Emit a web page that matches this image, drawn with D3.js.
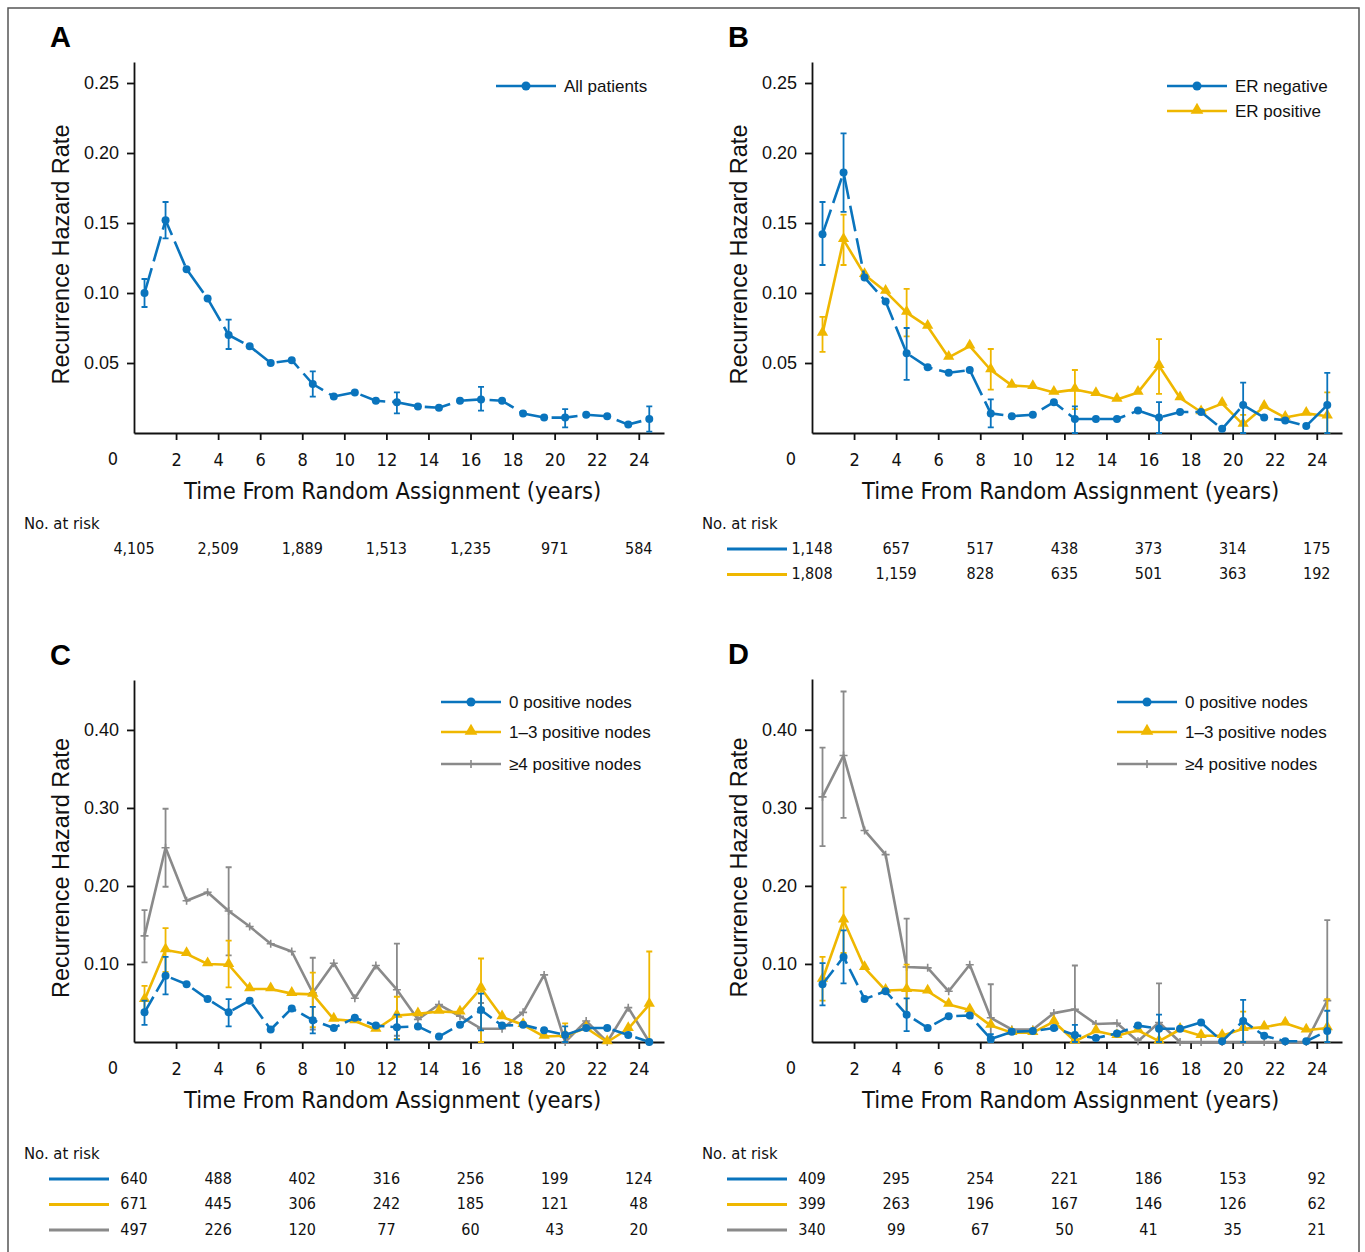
<!DOCTYPE html>
<html>
<head>
<meta charset="utf-8">
<script src="https://d3js.org/d3.v7.min.js"></script>
<style>
  body { margin: 0; background: #fff; }
  .narrow { font-family: "Liberation Sans Narrow", "DejaVu Sans Condensed", "Arial Narrow", sans-serif; }
  .sans { font-family: "Liberation Sans", Arial, Helvetica, sans-serif; }
</style>
</head>
<body>
<script>
// ---- data ----
var times = [0.5, 1.5, 2.5, 3.5, 4.5, 5.5, 6.5, 7.5, 8.5, 9.5, 10.5, 11.5, 12.5,
             13.5, 14.5, 15.5, 16.5, 17.5, 18.5, 19.5, 20.5, 21.5, 22.5, 23.5, 24.5];
var errTimes = [0.5, 1.5, 4.5, 8.5, 12.5, 16.5, 20.5, 24.5];
var xTicks = [2, 4, 6, 8, 10, 12, 14, 16, 18, 20, 22, 24];
var yTicksAB = [0.05, 0.10, 0.15, 0.20, 0.25];
var yTicksCD = [0.10, 0.20, 0.30, 0.40];
var riskTimes = [0, 4, 8, 12, 16, 20, 24];

// A: all patients
var allPts = [0.100, 0.152, 0.117, 0.096, 0.070, 0.062, 0.050, 0.052, 0.035, 0.026, 0.029, 0.023, 0.022,
              0.019, 0.018, 0.023, 0.024, 0.023, 0.014, 0.011, 0.011, 0.013, 0.012, 0.006, 0.010];
var allPtsLo = [0.090, 0.139, 0.060, 0.026, 0.014, 0.016, 0.004, 0.001];
var allPtsHi = [0.110, 0.165, 0.081, 0.044, 0.029, 0.033, 0.017, 0.019];
var riskAll = ["4,105", "2,509", "1,889", "1,513", "1,235", "971", "584"];

// B: ER status
var erNeg = [0.142, 0.186, 0.111, 0.094, 0.057, 0.047, 0.043, 0.045, 0.014, 0.012, 0.013, 0.022, 0.010,
             0.010, 0.010, 0.016, 0.011, 0.015, 0.015, 0.003, 0.020, 0.011, 0.009, 0.005, 0.020];
var erNegLo = [0.120, 0.158, 0.038, 0.004, 0.000, 0.000, 0.000, 0.000];
var erNegHi = [0.165, 0.214, 0.075, 0.024, 0.019, 0.022, 0.036, 0.043];
var erPos = [0.071, 0.138, 0.113, 0.101, 0.086, 0.076, 0.054, 0.062, 0.045, 0.034, 0.033, 0.029, 0.031,
             0.028, 0.024, 0.029, 0.048, 0.025, 0.015, 0.021, 0.006, 0.019, 0.011, 0.014, 0.012];
var erPosLo = [0.058, 0.120, 0.069, 0.031, 0.017, 0.028, 0.000, 0.000];
var erPosHi = [0.083, 0.156, 0.103, 0.060, 0.045, 0.067, 0.013, 0.029];
var riskErNeg = ["1,148", "657", "517", "438", "373", "314", "175"];
var riskErPos = ["1,808", "1,159", "828", "635", "501", "363", "192"];

// C: nodal status, panel C
var cNode0 = [0.038, 0.085, 0.074, 0.055, 0.038, 0.053, 0.016, 0.043, 0.028, 0.018, 0.031, 0.021, 0.019,
              0.020, 0.007, 0.022, 0.041, 0.021, 0.022, 0.015, 0.009, 0.018, 0.018, 0.009, 0.000];
var cNode0Lo = [0.022, 0.061, 0.020, 0.011, 0.003, 0.015, 0.000, 0.000];
var cNode0Hi = [0.053, 0.109, 0.055, 0.045, 0.035, 0.062, 0.020, 0.000];
var cNode13 = [0.054, 0.118, 0.113, 0.100, 0.099, 0.068, 0.068, 0.062, 0.061, 0.029, 0.027, 0.016, 0.034,
               0.036, 0.039, 0.038, 0.069, 0.032, 0.022, 0.007, 0.008, 0.018, 0.000, 0.017, 0.048];
var cNode13Lo = [0.036, 0.090, 0.070, 0.019, 0.004, 0.000, 0.000, 0.000];
var cNode13Hi = [0.072, 0.146, 0.130, 0.089, 0.058, 0.107, 0.024, 0.116];
var cNode4 = [0.136, 0.249, 0.181, 0.192, 0.168, 0.148, 0.126, 0.116, 0.063, 0.101, 0.056, 0.098, 0.067,
              0.029, 0.048, 0.033, 0.017, 0.017, 0.038, 0.086, 0.000, 0.027, 0.000, 0.044, 0.000];
var cNode4Lo = [0.102, 0.199, 0.111, 0.016, 0.008, 0.000];
var cNode4Hi = [0.169, 0.299, 0.224, 0.108, 0.126, 0.050];
var riskC0 = ["640", "488", "402", "316", "256", "199", "124"];
var riskC13 = ["671", "445", "306", "242", "185", "121", "48"];
var riskC4 = ["497", "226", "120", "77", "60", "43", "20"];

// D: nodal status, panel D
var dNode0 = [0.074, 0.109, 0.055, 0.065, 0.035, 0.018, 0.033, 0.034, 0.004, 0.013, 0.014, 0.018, 0.009,
              0.005, 0.011, 0.021, 0.017, 0.017, 0.025, 0.001, 0.027, 0.008, 0.001, 0.001, 0.014];
var dNode0Lo = [0.047, 0.075, 0.014, 0.000, 0.000, 0.000, 0.000, 0.000];
var dNode0Hi = [0.101, 0.143, 0.056, 0.010, 0.022, 0.035, 0.054, 0.040];
var dNode13 = [0.080, 0.156, 0.095, 0.066, 0.067, 0.065, 0.048, 0.041, 0.021, 0.012, 0.012, 0.026, 0.001,
               0.014, 0.008, 0.015, 0.001, 0.016, 0.008, 0.008, 0.017, 0.019, 0.024, 0.015, 0.018];
var dNode13Lo = [0.053, 0.114, 0.036, 0.000, 0.000, 0.000, 0.000, 0.000];
var dNode13Hi = [0.109, 0.198, 0.099, 0.000, 0.000, 0.000, 0.039, 0.055];
var dNode4 = [0.314, 0.367, 0.271, 0.240, 0.096, 0.095, 0.065, 0.099, 0.031, 0.016, 0.016, 0.037, 0.042,
              0.023, 0.024, 0.001, 0.025, 0.000, 0.000, 0.000, 0.000, 0.000, 0.000, 0.000, 0.053];
var dNode4Lo = [0.251, 0.287, 0.034, 0.000, 0.000, 0.000, 0.000, 0.000];
var dNode4Hi = [0.377, 0.449, 0.158, 0.074, 0.098, 0.075, 0.000, 0.156];
var riskD0 = ["409", "295", "254", "221", "186", "153", "92"];
var riskD13 = ["399", "263", "196", "167", "146", "126", "62"];
var riskD4 = ["340", "99", "67", "50", "41", "35", "21"];

var blue = "#0a74bd", yellow = "#efb700", gray = "#8a8a8a";

// ---- drawing ----
var svg = d3.select("body").append("svg")
    .attr("width", 1365).attr("height", 1252);

svg.append("rect")
    .attr("x", 8).attr("y", 8).attr("width", 1351).attr("height", 1260)
    .attr("fill", "none").attr("stroke", "#555").attr("stroke-width", 1.5);

function series(name, vals, lo, hi, eTimes, color, marker, dashed) {
    return { name: name, vals: vals, lo: lo, hi: hi, eTimes: eTimes, color: color, marker: marker, dashed: dashed };
}

var panels = [
    { letter: "A", x0: 134, yb: 433, yt: 62, ymax: 0.265, yTicks: yTicksAB, fmt: ".2f", dash: "26,7",
      legendX: 496, legendY: [86],
      series: [series("All patients", allPts, allPtsLo, allPtsHi, errTimes, blue, "circle", true)],
      riskY: 523, riskRows: [{ vals: riskAll, color: null }] },
    { letter: "B", x0: 812, yb: 433, yt: 62, ymax: 0.265, yTicks: yTicksAB, fmt: ".2f", dash: "26,7",
      legendX: 1167, legendY: [86, 111],
      series: [series("ER negative", erNeg, erNegLo, erNegHi, errTimes, blue, "circle", true),
               series("ER positive", erPos, erPosLo, erPosHi, errTimes, yellow, "triangle", false)],
      riskY: 523, riskRows: [{ vals: riskErNeg, color: blue }, { vals: riskErPos, color: yellow }] },
    { letter: "C", x0: 134, yb: 1042, yt: 680, ymax: 0.464, yTicks: yTicksCD, fmt: ".2f", dash: "18,6",
      legendX: 441, legendY: [702, 732, 764],
      series: [series("0 positive nodes", cNode0, cNode0Lo, cNode0Hi, errTimes, blue, "circle", true),
               series("1\u20133 positive nodes", cNode13, cNode13Lo, cNode13Hi, errTimes, yellow, "triangle", false),
               series("\u22654 positive nodes", cNode4, cNode4Lo, cNode4Hi, errTimes.slice(0, 6), gray, "plus", false)],
      riskY: 1153, riskRows: [{ vals: riskC0, color: blue }, { vals: riskC13, color: yellow }, { vals: riskC4, color: gray }] },
    { letter: "D", x0: 812, yb: 1042, yt: 679, ymax: 0.465, yTicks: yTicksCD, fmt: ".2f", dash: "18,6",
      legendX: 1117, legendY: [702, 732, 764],
      series: [series("0 positive nodes", dNode0, dNode0Lo, dNode0Hi, errTimes, blue, "circle", true),
               series("1\u20133 positive nodes", dNode13, dNode13Lo, dNode13Hi, errTimes, yellow, "triangle", false),
               series("\u22654 positive nodes", dNode4, dNode4Lo, dNode4Hi, errTimes, gray, "plus", false)],
      riskY: 1153, riskRows: [{ vals: riskD0, color: blue }, { vals: riskD13, color: yellow }, { vals: riskD4, color: gray }] }
];

function drawMarker(g, type, cx, cy, color, big) {
    if (type === "circle") {
        g.append("circle").attr("cx", cx).attr("cy", cy).attr("r", big ? 4.5 : 4).attr("fill", color);
    } else if (type === "triangle") {
        g.append("path")
            .attr("d", d3.symbol().type(d3.symbolTriangle).size(big ? 70 : 55)())
            .attr("transform", "translate(" + cx + "," + (cy - 1) + ")")
            .attr("fill", color);
    } else {
        g.append("path")
            .attr("d", "M" + (cx - 4) + "," + cy + "H" + (cx + 4) + "M" + cx + "," + (cy - 4) + "V" + (cy + 4))
            .attr("stroke", color).attr("stroke-width", 1.6);
    }
}

panels.forEach(function(p) {
    var x = d3.scaleLinear().domain([0, 25.2]).range([p.x0, p.x0 + 530]);
    var y = d3.scaleLinear().domain([0, p.ymax]).range([p.yb, p.yt]);
    var g = svg.append("g");

    // panel letter
    g.append("text").attr("class", "sans")
        .attr("x", p.x0 - 84).attr("y", p.yt - 15)
        .attr("font-size", 29).attr("font-weight", "bold").text(p.letter);

    // axes
    var yAxis = g.append("g").attr("transform", "translate(" + p.x0 + ",0)")
        .call(d3.axisLeft(y).tickValues(p.yTicks).tickFormat(d3.format(p.fmt))
              .tickSize(7).tickSizeOuter(0).tickPadding(8));
    yAxis.selectAll("text").attr("class", "sans").attr("font-size", 18).attr("fill", "#111");
    yAxis.selectAll("path, line").attr("stroke", "#111").attr("stroke-width", 1.8);

    var xAxis = g.append("g").attr("transform", "translate(0," + p.yb + ")")
        .call(d3.axisBottom(x).tickValues(xTicks).tickSize(7).tickSizeOuter(0).tickPadding(13));
    xAxis.selectAll("text").attr("class", "narrow").attr("font-size", 18).attr("fill", "#111");
    xAxis.selectAll("path, line").attr("stroke", "#111").attr("stroke-width", 1.8);

    g.append("text").attr("class", "narrow")
        .attr("x", x(0) - 21).attr("y", p.yb + 26).attr("dy", "0.35em")
        .attr("text-anchor", "middle").attr("font-size", 18).attr("fill", "#111").text("0");

    // axis titles
    g.append("text").attr("class", "narrow")
        .attr("x", x(12.3)).attr("y", p.yb + 66)
        .attr("text-anchor", "middle").attr("font-size", 23.5).attr("fill", "#111")
        .text("Time From Random Assignment (years)");
    g.append("text").attr("class", "sans")
        .attr("transform", "translate(" + (p.x0 - 65) + "," + ((p.yb + p.yt) / 2 + 7) + ") rotate(-90)")
        .attr("text-anchor", "middle").attr("font-size", 23.5).attr("fill", "#111")
        .text("Recurrence Hazard Rate");

    // series
    var line = d3.line().x(function(d) { return x(d[0]); }).y(function(d) { return y(d[1]); });
    p.series.slice().reverse().forEach(function(s) {
        var pts = times.map(function(t, i) { return [t, s.vals[i]]; });
        var sg = g.append("g");
        sg.append("path").datum(pts)
            .attr("d", line).attr("fill", "none")
            .attr("stroke", s.color).attr("stroke-width", 2.6)
            .attr("stroke-linejoin", "round")
            .attr("stroke-dasharray", s.dashed ? p.dash : null);
        s.eTimes.forEach(function(t, i) {
            var xe = x(t), y1 = y(s.lo[i]), y2 = y(s.hi[i]);
            sg.append("path")
                .attr("d", "M" + xe + "," + y1 + "V" + y2 + "M" + (xe - 3) + "," + y1 + "H" + (xe + 3) +
                           "M" + (xe - 3) + "," + y2 + "H" + (xe + 3))
                .attr("stroke", s.color).attr("stroke-width", 1.8).attr("fill", "none");
        });
        pts.forEach(function(d) { drawMarker(sg, s.marker, x(d[0]), y(d[1]), s.color, false); });
    });

    // legend
    p.series.forEach(function(s, i) {
        var ly = p.legendY[i];
        g.append("line").attr("x1", p.legendX).attr("x2", p.legendX + 60)
            .attr("y1", ly).attr("y2", ly).attr("stroke", s.color).attr("stroke-width", 2.6);
        drawMarker(g, s.marker, p.legendX + 30, ly, s.color, true);
        g.append("text").attr("class", "sans")
            .attr("x", p.legendX + 68).attr("y", ly).attr("dy", "0.35em")
            .attr("font-size", 17).attr("fill", "#111").text(s.name);
    });

    // numbers at risk
    g.append("text").attr("class", "narrow")
        .attr("x", p.x0 - 110).attr("y", p.riskY).attr("dy", "0.35em")
        .attr("font-size", 16.5).attr("fill", "#111").text("No. at risk");
    p.riskRows.forEach(function(r, ri) {
        var ry = p.riskY + 25 + ri * 25.5;
        if (r.color) {
            g.append("line").attr("x1", p.x0 - 85).attr("x2", p.x0 - 25)
                .attr("y1", ry + 1).attr("y2", ry + 1)
                .attr("stroke", r.color).attr("stroke-width", 3);
        }
        r.vals.forEach(function(v, i) {
            g.append("text").attr("class", "narrow")
                .attr("x", x(riskTimes[i])).attr("y", ry).attr("dy", "0.35em")
                .attr("text-anchor", "middle").attr("font-size", 16).attr("fill", "#111").text(v);
        });
    });
});
</script>
</body>
</html>
